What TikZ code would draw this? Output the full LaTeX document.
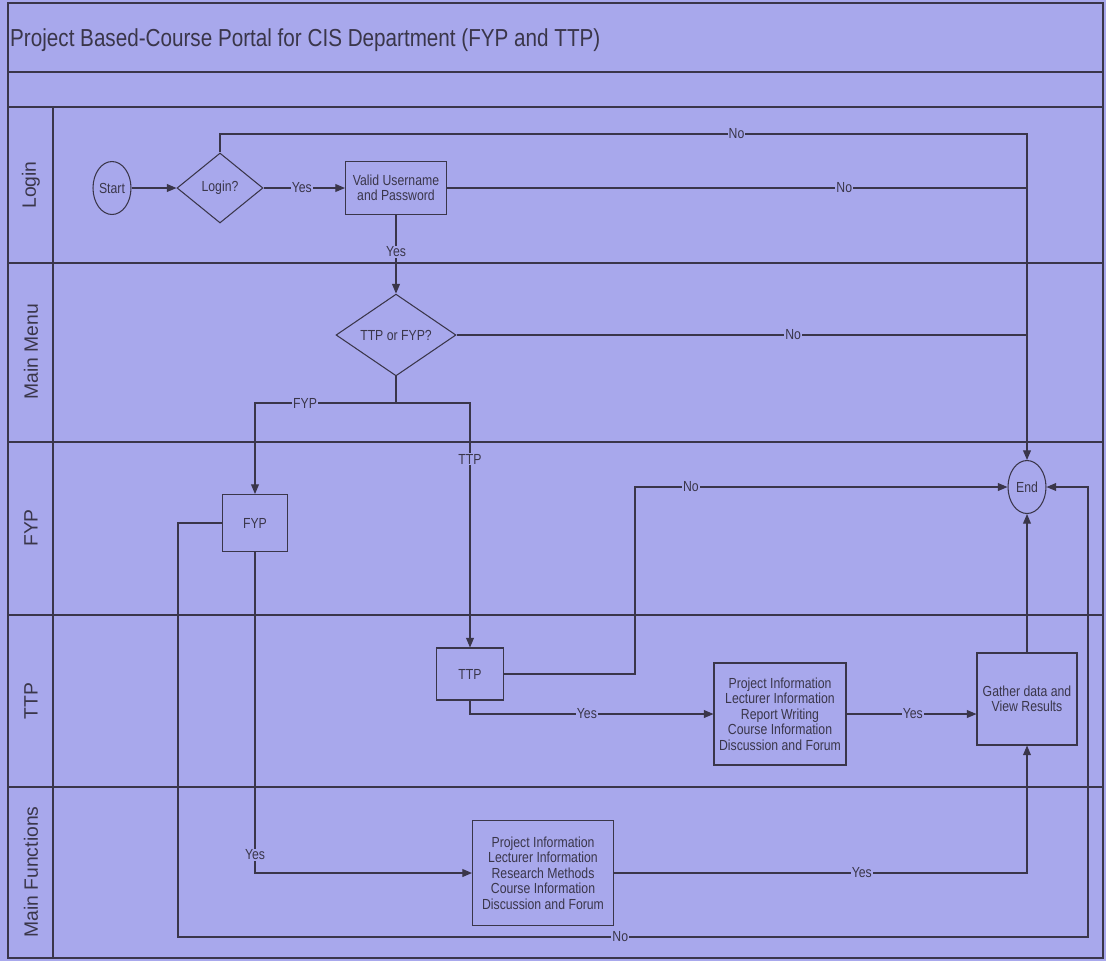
\documentclass[tikz,border=0pt]{standalone}
\usepackage{fontspec}
\setmainfont{Liberation Sans}
\newfontfamily\narrowfont[FakeStretch=0.84]{Liberation Sans}
\usetikzlibrary{arrows.meta,shapes.geometric}

\definecolor{pagebg}{RGB}{168,168,236}
\definecolor{ink}{RGB}{58,54,74}

\tikzset{
  lane/.style={draw=ink, line width=0.6pt},
  lanename/.style={rotate=90, text=ink, font=\fontsize{11}{13}\selectfont},
  terminal/.style={ellipse, draw=ink, line width=0.6pt, inner sep=0pt,
    minimum width=0.76cm, minimum height=1.06cm, text=ink,
    font=\narrowfont\fontsize{8.3}{9}\selectfont},
  decision/.style={diamond, draw=ink, line width=0.6pt, inner sep=0pt, text=ink,
    font=\narrowfont\fontsize{8.3}{9}\selectfont},
  stepbox/.style={rectangle, draw=ink, line width=0.6pt, inner sep=1pt, text=ink,
    align=center, font=\narrowfont\fontsize{8.3}{8.8}\selectfont},
  flow/.style={draw=ink, line width=0.6pt, -{Triangle[length=5.5pt,width=4.5pt]}},
  link/.style={draw=ink, line width=0.6pt},
  lbl/.style={fill=pagebg, inner sep=0.6pt, text=ink,
    font=\narrowfont\fontsize{8.3}{9}\selectfont}
}

\begin{document}
\begin{tikzpicture}[x=0.02cm, y=-0.02cm]
  \useasboundingbox (0,0) rectangle (1106,961);
  \fill[pagebg] (0,0) rectangle (1106,961);

  % pool and lanes
  \draw[lane] (8,3) rectangle (1103,958);
  \foreach \y in {72,107,263,442,615,787}
    \draw[lane] (8,\y) -- (1103,\y);
  \draw[lane] (53,107) -- (53,958);
  \node[anchor=west, text=ink, font=\narrowfont\fontsize{14}{16}\selectfont]
    (title) at (4,40) {Project Based-Course Portal for CIS Department (FYP and TTP)};
  \node[lanename] (l1) at (31,185) {Login};
  \node[lanename] (l2) at (31,352) {Main Menu};
  \node[lanename] (l3) at (31,528) {FYP};
  \node[lanename] (l4) at (31,701) {TTP};
  \node[lanename] (l5) at (31,872) {Main Functions};

  % steps
  \node[terminal] (start) at (112,188) {Start};
  \node[decision, minimum width=1.72cm, minimum height=1.4cm] (login) at (220,188) {Login?};
  \node[stepbox, minimum width=2.02cm, minimum height=1.06cm] (valid) at (396,188)
    {Valid Username\\and Password};
  \node[decision, minimum width=2.4cm, minimum height=1.44cm] (menu) at (396,335) {TTP or FYP?};
  \node[stepbox, minimum width=1.3cm, minimum height=1.14cm] (fyp) at (255,523) {FYP};
  \node[stepbox, minimum width=1.34cm, minimum height=1.04cm] (ttp) at (470,674) {TTP};
  \node[stepbox, minimum width=2.64cm, minimum height=2.04cm] (ttpfun) at (780,714)
    {Project Information\\Lecturer Information\\Report Writing\\Course Information\\Discussion and Forum};
  \node[stepbox, minimum width=2.0cm, minimum height=1.84cm] (gather) at (1027,699)
    {Gather data and\\View Results};
  \node[stepbox, minimum width=2.82cm, minimum height=2.1cm] (fypfun) at (543,873)
    {Project Information\\Lecturer Information\\Research Methods\\Course Information\\Discussion and Forum};
  \node[terminal] (end) at (1027,487) {End};

  \coordinate (topno) at (1027,134);
  \coordinate (split) at (396,403);
  \coordinate (ttpno) at (635,674);
  \coordinate (fypno) at (178,937);
  \coordinate (rightno) at (1088,937);

  % connectors
  \draw[flow] (start) -- (login);
  \draw[flow] (login) -- node[lbl, pos=0.47]{Yes} (valid);
  \draw[flow] (login.north) -- (login.north |- topno) -- node[lbl, pos=0.64]{No} (topno) -- (end.north);
  \draw[link] (valid.east) -- node[lbl, pos=0.685]{No} (valid.east -| topno);
  \draw[flow] (valid.south) -- node[lbl, pos=0.47]{Yes} (menu.north);
  \draw[link] (menu.east) -- node[lbl, pos=0.59]{No} (menu.east -| topno);
  \draw[link] (menu.south) -- (split);
  \draw[flow] (split) -- node[lbl, pos=0.645]{FYP} (split -| fyp.north) -- (fyp.north);
  \draw[flow] (split) -- (split -| ttp.north) -- node[lbl, pos=0.23]{TTP} (ttp.north);
  \draw[flow] (fyp.west) -| (fypno) -- node[lbl, pos=0.486]{No} (rightno) |- (end.east);
  \draw[flow] (fyp.south) -- node[lbl, pos=0.944]{Yes} (fyp.south |- fypfun.west) -- (fypfun.west);
  \draw[flow] (fypfun.east) -- node[lbl, pos=0.6]{Yes} (fypfun.east -| gather.south) -- (gather.south);
  \draw[flow] (ttp.east) -- (ttpno) -- (ttpno |- end.west) -- node[lbl, pos=0.15]{No} (end.west);
  \draw[flow] (ttp.south) -- (ttp.south |- ttpfun.west) -- node[lbl, pos=0.48]{Yes} (ttpfun.west);
  \draw[flow] (ttpfun.east) -- node[lbl, pos=0.51]{Yes} (ttpfun.east -| gather.west);
  \draw[flow] (gather.north) -- (end.south);
\end{tikzpicture}
\end{document}
